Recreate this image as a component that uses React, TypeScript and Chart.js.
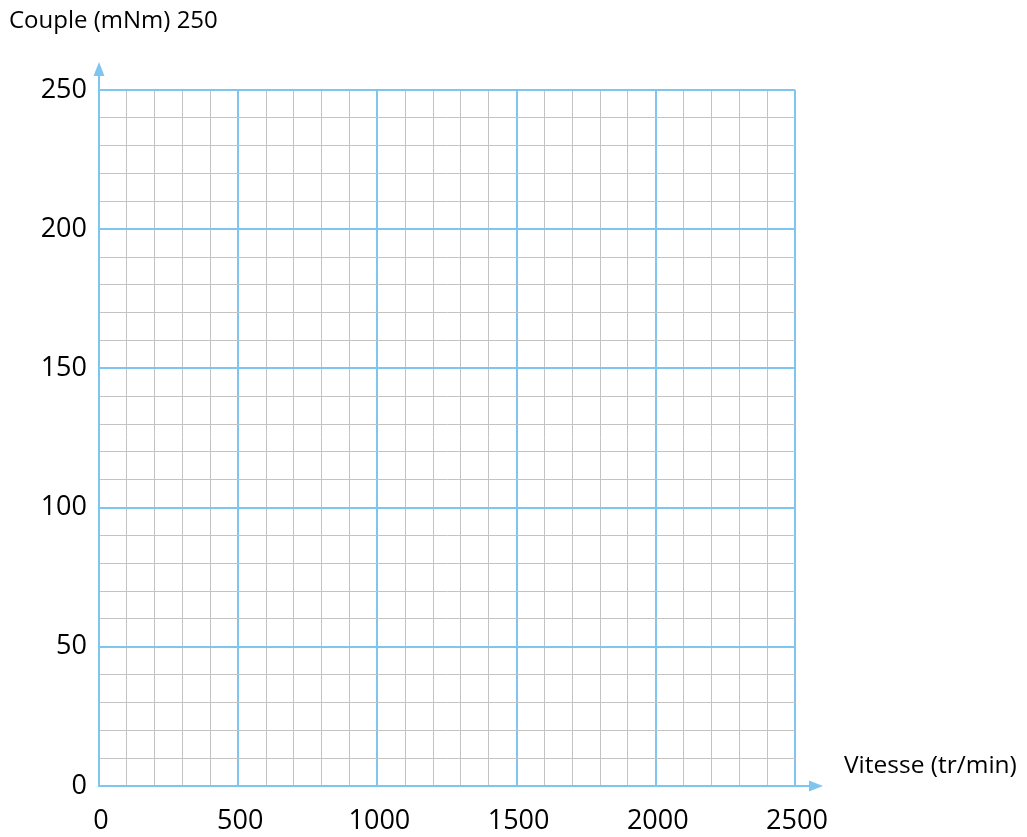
import React, { useEffect, useRef } from "react";
import { Chart, registerables } from "chart.js";

Chart.register(...registerables);

// Axis ranges and steps
const X_MIN = 0;
const X_MAX = 2500;
const X_MINOR = 100;
const X_MAJOR = 500;
const Y_MIN = 0;
const Y_MAX = 250;
const Y_MINOR = 10;
const Y_MAJOR = 50;

// Texts
const X_AXIS_LABEL = "Vitesse (tr/min)";
const Y_AXIS_LABEL = "Couple (mNm) 250";

// No plotted series: empty graph paper
const seriesX: number[] = [];
const seriesY: number[] = [];

const BLUE = "#7ec6ef";
const GREY = "#c3c3c3";
const FONT = "'Open Sans', 'DejaVu Sans', sans-serif";

const decorPlugin = {
  id: "decor",
  afterDraw(chart: any) {
    const { ctx, chartArea } = chart;
    const { left, right, top, bottom } = chartArea;
    ctx.save();
    ctx.strokeStyle = BLUE;
    ctx.fillStyle = BLUE;
    ctx.lineWidth = 2;
    // y axis arrow
    ctx.beginPath();
    ctx.moveTo(left, top);
    ctx.lineTo(left, top - 15);
    ctx.stroke();
    ctx.beginPath();
    ctx.moveTo(left - 5.5, top - 14);
    ctx.lineTo(left + 5.5, top - 14);
    ctx.lineTo(left, top - 28);
    ctx.closePath();
    ctx.fill();
    // x axis arrow
    ctx.beginPath();
    ctx.moveTo(right, bottom);
    ctx.lineTo(right + 15, bottom);
    ctx.stroke();
    ctx.beginPath();
    ctx.moveTo(right + 14, bottom - 5.5);
    ctx.lineTo(right + 14, bottom + 5.5);
    ctx.lineTo(right + 28, bottom);
    ctx.closePath();
    ctx.fill();

    // texts
    ctx.fillStyle = "#000";
    ctx.textBaseline = "middle";
    ctx.textAlign = "left";
    ctx.font = `24px ${FONT}`;
    ctx.fillText(Y_AXIS_LABEL, 9, 21);
    ctx.font = `24.5px ${FONT}`;
    ctx.fillText(X_AXIS_LABEL, 844, 766);
    ctx.restore();
  },
};

export default function App() {
  const ref = useRef<HTMLCanvasElement>(null);
  useEffect(() => {
    document.body.style.margin = "0";
    const canvas = ref.current!;
    const chart = new Chart(canvas, {
      type: "scatter",
      data: {
        datasets: [
          {
            data: seriesX.map((x, i) => ({ x, y: seriesY[i] })),
            showLine: false,
          },
        ],
      },
      options: {
        animation: false,
        responsive: false,
        maintainAspectRatio: false,
        layout: { padding: { top: 90, right: 232, left: 0, bottom: 0 } },
        plugins: {
          legend: { display: false },
          tooltip: { enabled: false },
          title: { display: false },
        },
        scales: {
          x: {
            type: "linear",
            min: X_MIN,
            max: X_MAX,
            afterFit: (s: any) => {
              s.height = 51;
            },
            afterBuildTicks: (s: any) => {
              const t = [];
              for (let v = X_MIN; v <= X_MAX; v += X_MINOR) t.push({ value: v });
              s.ticks = t;
            },
            ticks: {
              autoSkip: false,
              maxRotation: 0,
              padding: 19,
              labelOffset: 2,
              color: "#000",
              font: { family: FONT, size: 27 },
              callback: (v: any) => (Number(v) % X_MAJOR === 0 ? String(v) : ""),
            },
            grid: {
              drawTicks: false,
              color: (c: any) => (c.tick && c.tick.value % X_MAJOR === 0 ? BLUE : GREY),
              lineWidth: (c: any) => (c.tick && c.tick.value % X_MAJOR === 0 ? 2 : 1),
            },
            border: { display: true, color: BLUE, width: 2 },
          },
          y: {
            type: "linear",
            min: Y_MIN,
            max: Y_MAX,
            afterFit: (s: any) => {
              s.width = 99;
            },
            afterBuildTicks: (s: any) => {
              const t = [];
              for (let v = Y_MIN; v <= Y_MAX; v += Y_MINOR) t.push({ value: v });
              s.ticks = t;
            },
            ticks: {
              autoSkip: false,
              padding: 12,
              color: "#000",
              font: { family: FONT, size: 27 },
              callback: (v: any) => (Number(v) % Y_MAJOR === 0 ? String(v) : ""),
            },
            grid: {
              drawTicks: false,
              color: (c: any) => (c.tick && c.tick.value % Y_MAJOR === 0 ? BLUE : GREY),
              lineWidth: (c: any) => (c.tick && c.tick.value % Y_MAJOR === 0 ? 2 : 1),
            },
            border: { display: true, color: BLUE, width: 2 },
          },
        },
      },
      plugins: [decorPlugin],
    });
    return () => chart.destroy();
  }, []);
  return (
    <div style={{ width: 1027, height: 837 }}>
      <canvas ref={ref} width={1027} height={837} style={{ display: "block" }} />
    </div>
  );
}
